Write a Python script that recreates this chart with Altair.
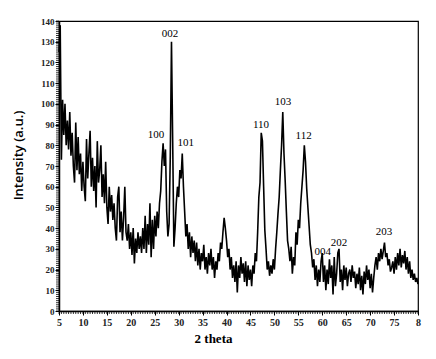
import altair as alt
import pandas as pd

# XRD pattern, 2-theta from 5 to 80 in steps of 0.25
theta_start = 5.0
theta_step = 0.25
intensity = [
    125, 138, 73, 102, 85, 100, 80, 92, 78, 96, 75, 86, 70, 62, 91, 68,
    84, 66, 76, 58, 72, 60, 53, 83, 64, 76, 87, 60, 74, 58, 70, 50,
    82, 62, 68, 80, 55, 66, 52, 72, 50, 42, 60, 48, 56, 44, 52, 40,
    34, 55, 60, 38, 48, 34, 45, 60, 38, 34, 42, 30, 38, 27, 40, 23,
    35, 28, 38, 30, 36, 28, 40, 30, 46, 28, 42, 32, 52, 26, 44, 30,
    46, 36, 48, 40, 52, 58, 72, 81, 70, 78, 48, 36, 42, 75, 130, 82,
    31, 40, 52, 60, 55, 68, 64, 76, 60, 48, 36, 42, 30, 38, 26, 36,
    28, 34, 24, 33, 22, 30, 20, 28, 24, 32, 20, 26, 18, 28, 22, 30,
    20, 26, 16, 24, 20, 28, 24, 33, 30, 38, 45, 40, 34, 26, 30, 20,
    26, 16, 22, 14, 24, 9, 22, 16, 26, 18, 23, 14, 24, 12, 22, 15,
    20, 12, 22, 18, 28, 24, 38, 55, 62, 86, 82, 60, 39, 30, 20, 24,
    17, 22, 18, 25, 20, 30, 38, 47, 55, 68, 80, 96, 76, 63, 48, 34,
    30, 24, 31, 18, 26, 22, 38, 32, 44, 40, 52, 60, 68, 80, 72, 59,
    50, 41, 32, 28, 21, 25, 15, 22, 12, 20, 14, 24, 28, 14, 22, 10,
    20, 13, 25, 16, 22, 8, 26, 12, 18, 28, 30, 14, 20, 10, 22, 15,
    21, 12, 18, 20, 14, 22, 16, 19, 11, 18, 13, 21, 10, 17, 8, 19,
    13, 22, 15, 20, 11, 18, 9, 16, 22, 26, 20, 28, 24, 30, 25, 29,
    33, 26, 28, 22, 25, 19, 21, 24, 18, 26, 20, 28, 22, 30, 21, 27,
    23, 29, 20, 26, 18, 24, 16, 20, 15, 18, 14, 16, 13,
]
theta = [theta_start + theta_step * i for i in range(len(intensity))]

peak_labels = ["100", "002", "101", "110", "103", "112", "004", "202", "203"]
peak_x = [25.25, 28.2, 31.5, 47.2, 51.8, 56.1, 60.1, 63.5, 72.9]
peak_y = [84.8, 133.7, 80.9, 89.6, 100.8, 84.3, 28.6, 32.9, 38.3]

x_major = [5, 10, 15, 20, 25, 30, 35, 40, 45, 50, 55, 60, 65, 70, 75, 80]
y_major = [0, 10, 20, 30, 40, 50, 60, 70, 80, 90, 100, 110, 120, 130, 140]

x_minor = [5 + 0.5 * i for i in range(151)]
y_minor = [i for i in range(0, 141)]

df = pd.DataFrame({"theta": theta, "intensity": intensity})
lab = pd.DataFrame({"label": peak_labels, "x": peak_x, "y": peak_y})
xm = pd.DataFrame({"v": x_minor})
ym = pd.DataFrame({"v": y_minor})

serif = "Liberation Serif"

xscale = alt.Scale(domain=[5, 80], nice=False, zero=False)
yscale = alt.Scale(domain=[0, 140], nice=False)

xaxis = alt.Axis(
    values=x_major,
    labelExpr="datum.value == 80 ? '8' : datum.label",
    labelOverlap=False, labelFlush=False,
    labelFont=serif, labelFontSize=10, labelFontWeight="bold", labelColor="#222",
    labelPadding=2,
    tickSize=4, tickColor="black", tickWidth=1,
    domainColor="black", domainWidth=1.5,
    grid=False,
    title="2 theta", titleFont=serif, titleFontSize=13, titleFontWeight="bold",
    titleColor="black", titleX=154, titleY=27, titleAnchor="middle",
    titleAlign="center", titleBaseline="middle",
)
yaxis = alt.Axis(
    values=y_major,
    labelOverlap=False, labelFlush=False,
    labelFont=serif, labelFontSize=9, labelFontWeight="bold", labelColor="#222",
    labelPadding=1,
    tickSize=4, tickColor="black", tickWidth=1,
    domainColor="black", domainWidth=1.5,
    grid=False,
    title="Intensity (a.u.)", titleFont="Open Sans", titleFontSize=13,
    titleFontWeight=600, titleColor="black",
    titleX=-41, titleY=134, titleAngle=-90, titleAlign="center",
    titleBaseline="middle",
)

line = alt.Chart(df).mark_line(color="black", strokeWidth=1.6).encode(
    x=alt.X("theta:Q", scale=xscale, axis=xaxis),
    y=alt.Y("intensity:Q", scale=yscale, axis=yaxis),
)

xminor = alt.Chart(xm).mark_rule(color="black", strokeWidth=0.8).encode(
    x=alt.X("v:Q", scale=xscale, axis=xaxis),
    y=alt.value(290),
    y2=alt.value(293),
)
yminor = alt.Chart(ym).mark_rule(color="black", strokeWidth=0.8).encode(
    y=alt.Y("v:Q", scale=yscale, axis=yaxis),
    x=alt.value(-3),
    x2=alt.value(0),
)

text = alt.Chart(lab).mark_text(
    font=serif, fontSize=11, color="black", align="center", baseline="middle"
).encode(
    x=alt.X("x:Q", scale=xscale, axis=xaxis),
    y=alt.Y("y:Q", scale=yscale, axis=yaxis),
    text="label:N",
)

chart = (
    alt.layer(line, xminor, yminor, text)
    .properties(
        width=359,
        height=290,
        autosize=alt.AutoSizeParams(type="none"),
        padding={"left": 59, "top": 21, "right": 18, "bottom": 48},
        background="white",
    )
    .configure_view(stroke="black", strokeWidth=1.2)
)

chart.save("out.html", embed_options={"renderer": "svg", "actions": False})
